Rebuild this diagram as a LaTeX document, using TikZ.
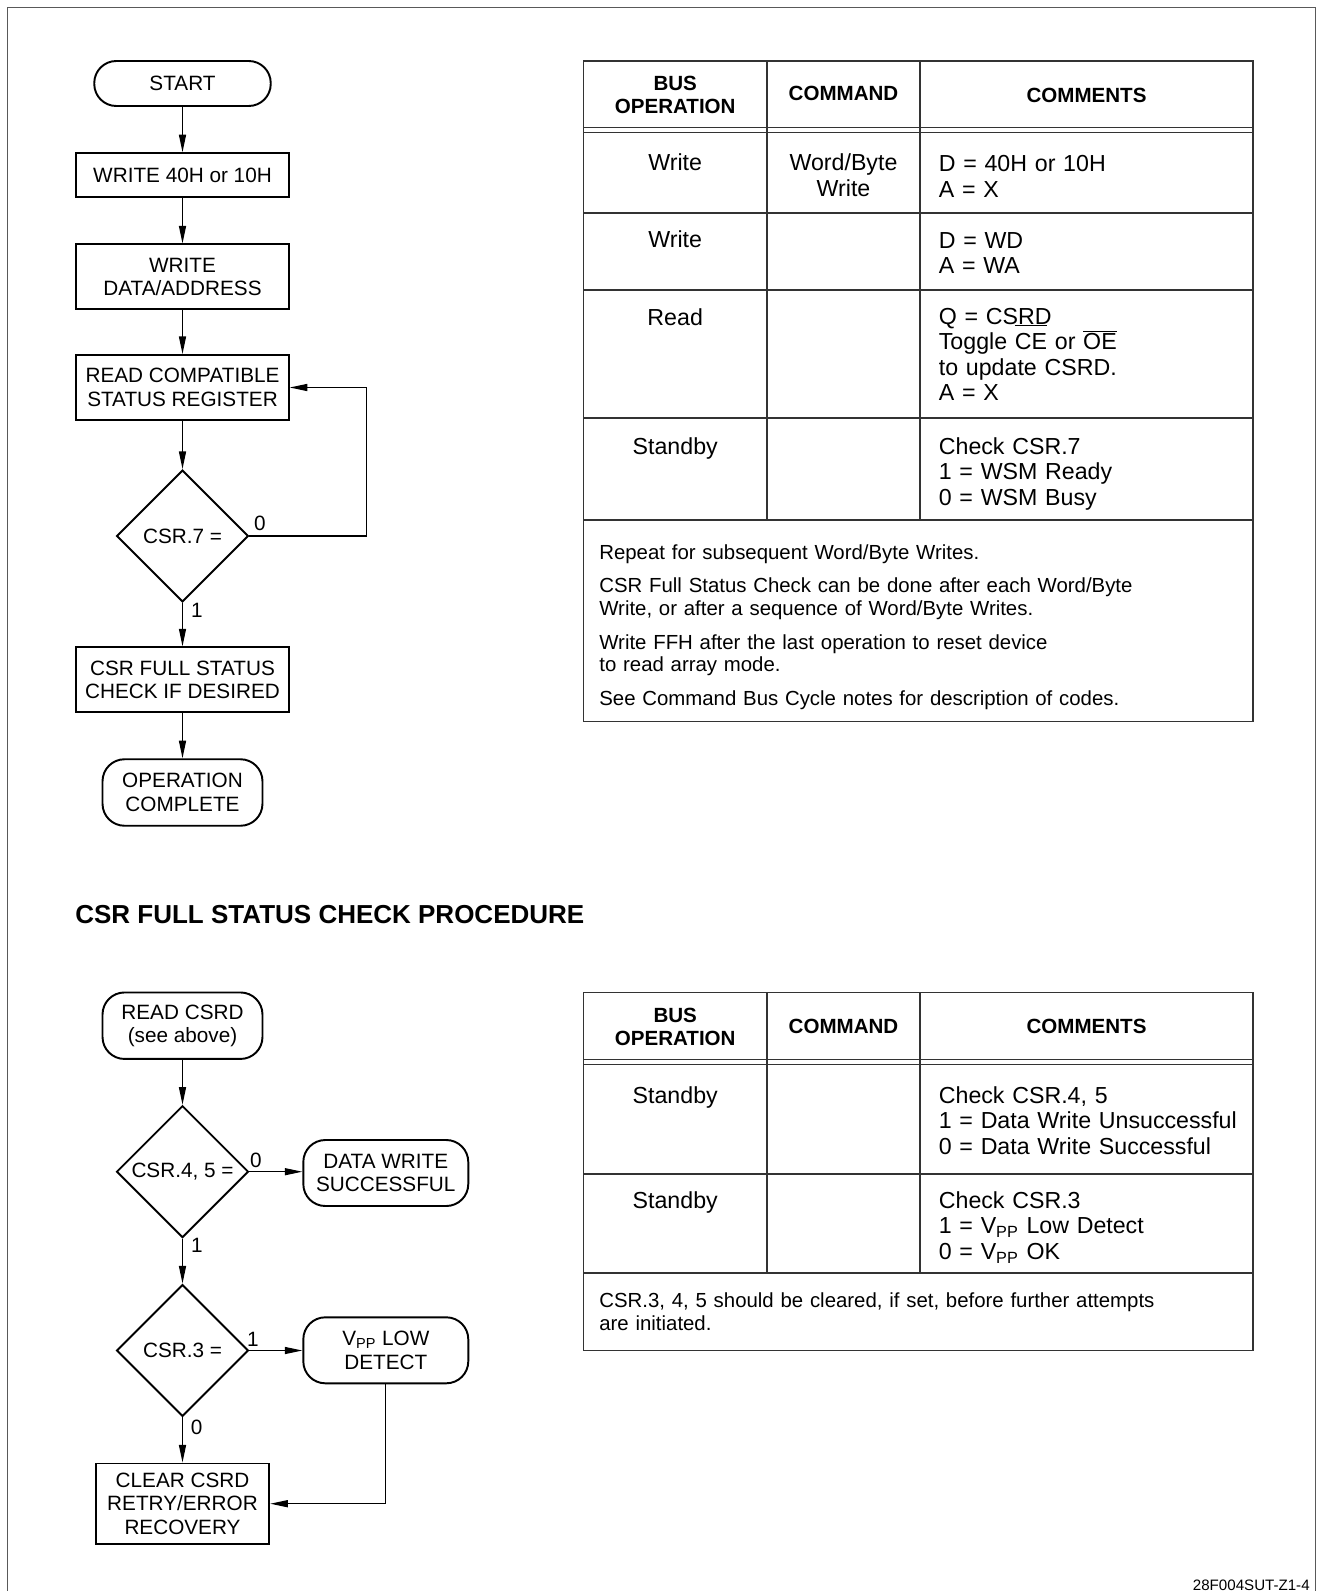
\documentclass[tikz,border=0pt]{standalone}
\usepackage{fontspec}
\setmainfont{Liberation Sans}
\usetikzlibrary{shapes.geometric, arrows.meta}
\definecolor{framegray}{rgb}{0.35, 0.35, 0.35}
\definecolor{rulegray}{rgb}{0.2, 0.2, 0.2}

\tikzset{
  flowtxt/.style={font=\fontsize{11.8}{13.3}\selectfont, align=center, inner sep=0pt},
  termbox/.style={flowtxt, draw, line width=1.1pt, rounded corners=0.44cm},
  procbox/.style={flowtxt, draw, line width=1.1pt},
  decbox/.style={flowtxt, draw, diamond, aspect=1, line width=1.1pt, minimum size=2.64cm},
  flowarr/.style={line width=0.7pt, -{Triangle[length=10pt, width=4pt]}},
  tline/.style={line width=0.75pt, draw=rulegray},
  hdr/.style={font=\bfseries\fontsize{11.7}{13.3}\selectfont, align=center, inner sep=0pt},
  cellc/.style={font=\fontsize{13.2}{14.6}\selectfont, align=center, inner sep=0pt, anchor=base, text width=3cm},
  celll/.style={font=\fontsize{13.2}{14.6}\selectfont, align=left, inner sep=0pt, anchor=base west, text width=6.1cm},
  notetxt/.style={font=\fontsize{11.6}{13}\selectfont, align=left, inner sep=0pt, anchor=base west, text width=12.6cm},
}

\begin{document}
\begin{tikzpicture}[x=0.02cm, y=-0.02cm]
  \useasboundingbox (0,0) rectangle (1318,1591);

  % Page frame
  \draw[line width=0.9pt, draw=framegray] (7.5,1591) -- (7.5,7.3) -- (1315.5,7.3) -- (1315.5,1591);

  % Word/byte write flow
  \node[termbox, minimum width=3.53cm, minimum height=0.9cm] (start) at (182.5,83.5) {START};
  \node[procbox, minimum width=4.25cm, minimum height=0.87cm] (wr40) at (182.5,175) {WRITE 40H or 10H};
  \node[procbox, minimum width=4.25cm, minimum height=1.29cm] (wrdata) at (182.5,276.7) {WRITE\\DATA/ADDRESS};
  \node[procbox, minimum width=4.25cm, minimum height=1.3cm] (rdstat) at (182.5,387.5) {READ COMPATIBLE\\STATUS REGISTER};
  \node[decbox] (csr7) at (182.5,536) {CSR.7 =};
  \node[procbox, minimum width=4.25cm, minimum height=1.3cm] (fullchk) at (182.5,679.8) {CSR FULL STATUS\\CHECK IF DESIRED};
  \node[termbox, minimum width=3.2cm, minimum height=1.33cm] (opdone) at (182.5,792.5) {OPERATION\\COMPLETE};
  \coordinate (loopr) at (366.7,536);

  \draw[flowarr] (start) -- (wr40);
  \draw[flowarr] (wr40) -- (wrdata);
  \draw[flowarr] (wrdata) -- (rdstat);
  \draw[flowarr] (rdstat) -- (csr7);
  \draw[flowarr] (csr7) -- (fullchk);
  \draw[flowarr] (fullchk) -- (opdone);
  \draw[flowarr] (csr7.east) -- (loopr) |- (rdstat.east);
  \node[flowtxt] (csr7no) at (260,523) {0};
  \node[flowtxt] (csr7yes) at (197,610) {1};

  % Write table
  \draw[tline] (583.4,61) rectangle (1253,721.5);
  \draw[tline] (583.4,127.5) -- (1253,127.5);
  \draw[tline] (583.4,132.5) -- (1253,132.5);
  \foreach \y in {213,290,418,520} {
    \draw[tline] (583.4,\y) -- (1253,\y);
  }
  \foreach \x in {767,920} {
    \draw[tline] (\x,61) -- (\x,520);
  }
  \node[hdr] (wbus) at (675.2,95) {BUS\\OPERATION};
  \node[hdr] (wcmd) at (843.5,93.3) {COMMAND};
  \node[hdr] (wcmt) at (1086.5,95) {COMMENTS};

  \node[cellc] (wop1) at (675.2,170.6) {Write};
  \node[cellc] (wcm1) at (843.5,170.6) {Word/Byte\\Write};
  \node[celll] (wtx1) at (938.5,171.6) {D = 40H or 10H\\A = X};
  \node[cellc] (wop2) at (675.2,247.6) {Write};
  \node[celll] (wtx2) at (938.5,248.3) {D = WD\\A = WA};
  \node[cellc] (wop3) at (675.2,325) {Read};
  \node[celll] (wtx3) at (938.5,324) {Q = CSRD\\Toggle \smash{$\overline{\mbox{CE\rule{0pt}{12.6pt}}}$} or \smash{$\overline{\mbox{OE}}$}\\to update CSRD.\\A = X};
  \node[cellc] (wop4) at (675.2,454) {Standby};
  \node[celll] (wtx4) at (938.5,454) {Check CSR.7\\1 = WSM Ready\\0 = WSM Busy};

  \node[notetxt] (wnote1) at (599,559.1) {Repeat for subsequent Word/Byte Writes.};
  \node[notetxt] (wnote2) at (599,592.4) {CSR Full Status Check can be done after each Word/Byte\\Write, or after a sequence of Word/Byte Writes.};
  \node[notetxt] (wnote3) at (599,649.1) {Write FFH after the last operation to reset device\\to read array mode.};
  \node[notetxt] (wnote4) at (599,705.7) {See Command Bus Cycle notes for description of codes.};

  % Full status check
  \node[font=\bfseries\fontsize{14.8}{17}\selectfont, anchor=base west, inner sep=0pt] (title) at (75,923.4) {CSR FULL STATUS CHECK PROCEDURE};

  \node[termbox, minimum width=3.2cm, minimum height=1.33cm] (rdcsrd) at (182.5,1025.7) {READ CSRD\\(see above)};
  \node[decbox] (csr45) at (182.5,1171.7) {CSR.4, 5 =};
  \node[termbox, minimum width=3.3cm, minimum height=1.32cm] (dwok) at (385.8,1173) {DATA WRITE\\SUCCESSFUL};
  \node[decbox] (csr3) at (182.5,1350.5) {CSR.3 =};
  \node[termbox, minimum width=3.3cm, minimum height=1.32cm] (vpplow) at (385.8,1350.3) {V\textsubscript{PP} LOW\\DETECT};
  \node[procbox, minimum width=3.47cm, minimum height=1.61cm] (clrcsrd) at (182.5,1503.7) {CLEAR CSRD\\RETRY/ERROR\\RECOVERY};

  \draw[flowarr] (rdcsrd) -- (csr45);
  \draw[flowarr] (csr45) -- (csr3);
  \draw[flowarr] (csr3) -- (clrcsrd);
  \draw[flowarr] (csr45.east) -- (csr45.east -| dwok.west);
  \draw[flowarr] (csr3.east) -- (csr3.east -| vpplow.west);
  \draw[flowarr] (vpplow.south) |- (clrcsrd.east);
  \node[flowtxt] (csr45no) at (256,1160) {0};
  \node[flowtxt] (csr45yes) at (197,1245) {1};
  \node[flowtxt] (csr3yes) at (253,1339.3) {1};
  \node[flowtxt] (csr3no) at (196.7,1427.7) {0};

  % Status table
  \draw[tline] (583.4,992.5) rectangle (1253,1350.5);
  \draw[tline] (583.4,1059.2) -- (1253,1059.2);
  \draw[tline] (583.4,1064.3) -- (1253,1064.3);
  \foreach \y in {1174,1273} {
    \draw[tline] (583.4,\y) -- (1253,\y);
  }
  \foreach \x in {767,920} {
    \draw[tline] (\x,992.5) -- (\x,1273);
  }
  \node[hdr] (sbus) at (675.2,1027.2) {BUS\\OPERATION};
  \node[hdr] (scmd) at (843.5,1026.7) {COMMAND};
  \node[hdr] (scmt) at (1086.5,1026) {COMMENTS};

  \node[cellc] (sop1) at (675.2,1103.3) {Standby};
  \node[celll] (stx1) at (938.5,1103.3) {Check CSR.4, 5\\1 = Data Write Unsuccessful\\0 = Data Write Successful};
  \node[cellc] (sop2) at (675.2,1208.3) {Standby};
  \node[celll] (stx2) at (938.5,1208.3) {Check CSR.3\\1 = V\textsubscript{PP} Low Detect\\0 = V\textsubscript{PP} OK};

  \node[notetxt] (snote) at (599,1307.4) {CSR.3, 4, 5 should be cleared, if set, before further attempts\\are initiated.};

  % Figure tag
  \node[font=\fontsize{8.6}{10}\selectfont, anchor=base east, inner sep=0pt] (figtag) at (1310,1590) {28F004SUT-Z1-4};
\end{tikzpicture}
\end{document}
